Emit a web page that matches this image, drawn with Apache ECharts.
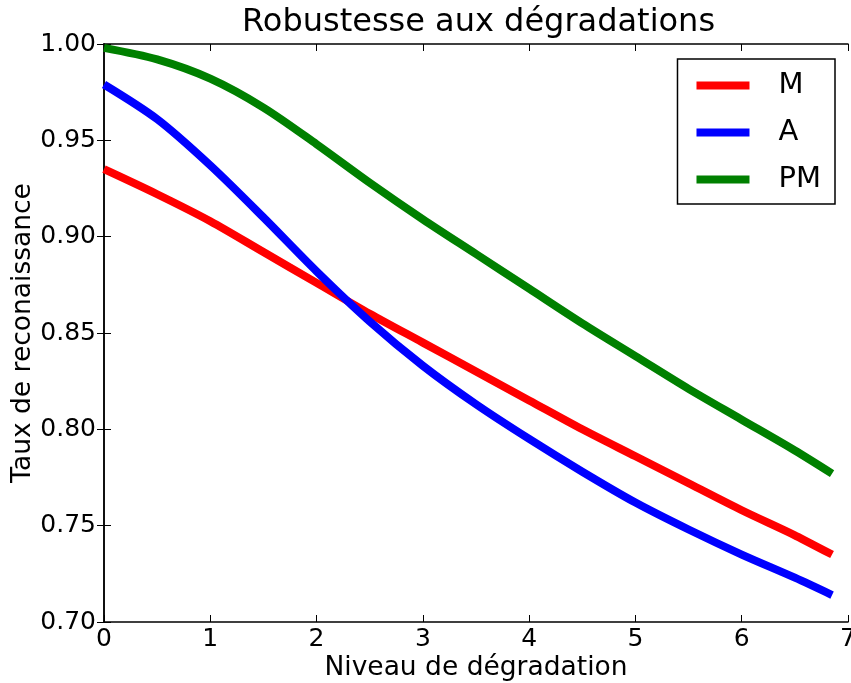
<!DOCTYPE html>
<html>
<head>
<meta charset="utf-8">
<script src="https://cdn.jsdelivr.net/npm/echarts@6/dist/echarts.min.js"></script>
<style>
  html, body { margin: 0; padding: 0; background: #fff; }
  #chart { width: 851px; height: 683px; }
</style>
</head>
<body>
<div id="chart"></div>
<script>
// niveaux de dégradation
const levels = [0, 0.5, 1, 1.5, 2, 2.5, 3, 3.5, 4, 4.5, 5, 5.5, 6, 6.5, 6.85]
const valuesM = [0.935, 0.922, 0.908, 0.892, 0.876, 0.860, 0.845, 0.830, 0.815, 0.800, 0.786, 0.772, 0.758, 0.745, 0.735]
const valuesA = [0.979, 0.961, 0.937, 0.910, 0.882, 0.856, 0.833, 0.813, 0.795, 0.778, 0.762, 0.748, 0.735, 0.723, 0.714]
const valuesPM = [0.998, 0.992, 0.982, 0.967, 0.948, 0.928, 0.909, 0.891, 0.873, 0.855, 0.838, 0.821, 0.805, 0.789, 0.777]
const xTicks = [0, 1, 2, 3, 4, 5, 6, 7]
const yTicks = [0.70, 0.75, 0.80, 0.85, 0.90, 0.95, 1.00]

const font = 'DejaVu Sans'
const chart = echarts.init(document.getElementById('chart'))

function pairs(vals) {
  return levels.map((x, i) => [x, vals[i]])
}

function line(name, vals, color) {
  return {
    name,
    type: 'line',
    data: pairs(vals),
    smooth: 0.3,
    showSymbol: false,
    symbol: 'none',
    lineStyle: { color, width: 8 },
    itemStyle: { color }
  }
}

const tickStyle = { inside: true, length: 7, lineStyle: { color: '#000', width: 1 } }
const spine = { show: true, lineStyle: { color: '#000', width: 1.5 } }

chart.setOption({
  animation: false,
  textStyle: { fontFamily: font },
  title: {
    text: 'Robustesse aux dégradations',
    left: 237,
    top: 2,
    textStyle: { fontFamily: font, fontSize: 32, fontWeight: 'normal', color: '#000' }
  },
  legend: {
    orient: 'vertical',
    right: 16,
    top: 59,
    padding: [12, 14, 10, 19],
    borderColor: '#000',
    borderWidth: 1.5,
    backgroundColor: '#fff',
    icon: 'rect',
    itemWidth: 53,
    itemHeight: 8,
    itemGap: 18,
    textStyle: { fontFamily: font, fontSize: 29, color: '#000', padding: [0, 0, 0, 24], width: 50 },
    data: ['M', 'A', 'PM']
  },
  grid: { left: 104, right: 3, top: 44, bottom: 61, outerBoundsMode: 'none' },
  xAxis: [
    {
      type: 'value',
      min: xTicks[0],
      max: xTicks[xTicks.length - 1],
      interval: 1,
      name: 'Niveau de dégradation',
      nameLocation: 'middle',
      nameGap: 33,
      nameMoveOverlap: false,
      nameTextStyle: { fontFamily: font, fontSize: 26.5, color: '#000' },
      axisLine: spine,
      axisTick: tickStyle,
      splitLine: { show: false },
      axisLabel: { fontFamily: font, fontSize: 25, color: '#000', margin: 5 }
    },
    {
      type: 'value',
      position: 'top',
      min: xTicks[0],
      max: xTicks[xTicks.length - 1],
      interval: 1,
      axisLine: spine,
      axisTick: tickStyle,
      splitLine: { show: false },
      axisLabel: { show: false }
    }
  ],
  yAxis: [
    {
      type: 'value',
      min: yTicks[0],
      max: yTicks[yTicks.length - 1],
      interval: 0.05,
      name: 'Taux de reconaissance',
      nameLocation: 'middle',
      nameGap: 67,
      nameMoveOverlap: false,
      nameTextStyle: { fontFamily: font, fontSize: 26.5, color: '#000' },
      axisLine: spine,
      axisTick: tickStyle,
      splitLine: { show: false },
      axisLabel: { fontFamily: font, fontSize: 25, color: '#000', margin: 8, formatter: v => v.toFixed(2) }
    },
    {
      type: 'value',
      position: 'right',
      min: yTicks[0],
      max: yTicks[yTicks.length - 1],
      interval: 0.05,
      axisLine: spine,
      axisTick: tickStyle,
      splitLine: { show: false },
      axisLabel: { show: false }
    }
  ],
  series: [
    line('M', valuesM, '#ff0000'),
    line('A', valuesA, '#0000ff'),
    line('PM', valuesPM, '#008000')
  ]
})
</script>
</body>
</html>
